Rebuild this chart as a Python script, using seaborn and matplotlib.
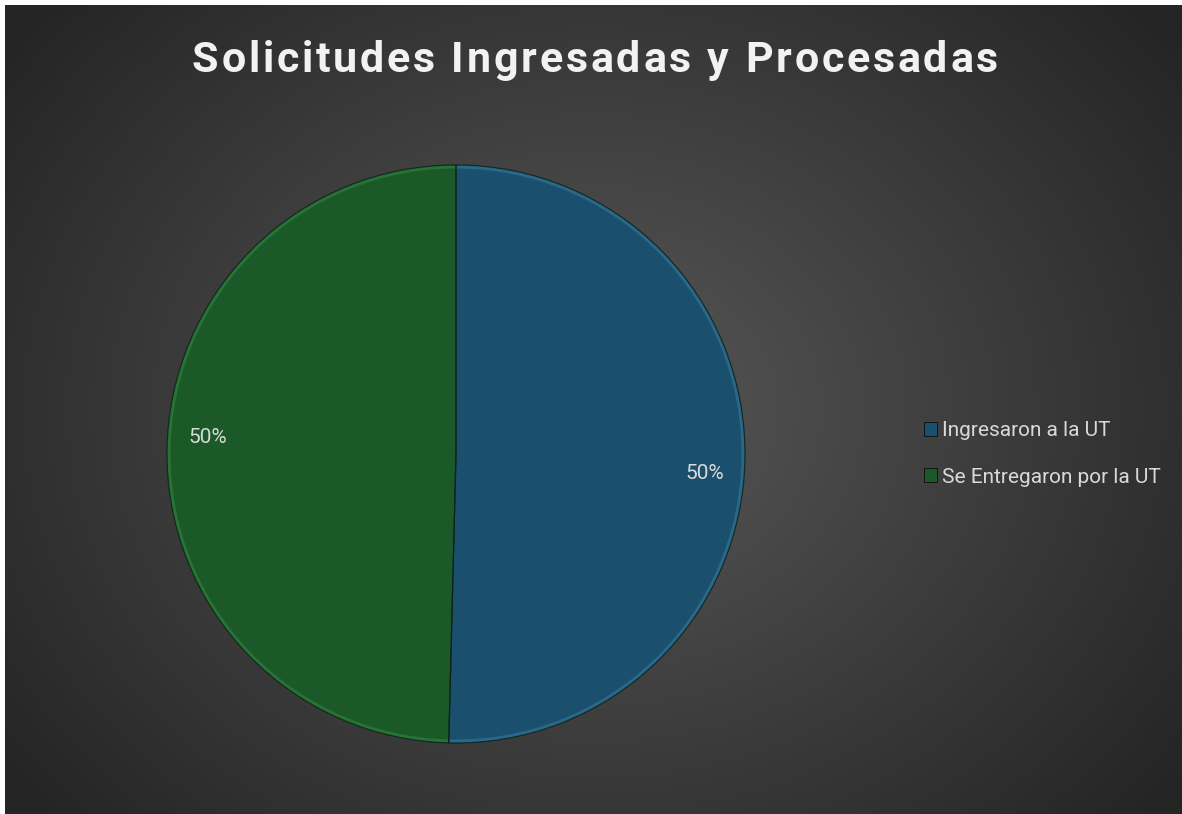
import numpy as np
import matplotlib
matplotlib.use("Agg")
import matplotlib.pyplot as plt
import seaborn as sns
from matplotlib.patches import Patch

categories = ["Ingresaron a la UT", "Se Entregaron por la UT"]
values = [50.4, 49.6]
title = "Solicitudes Ingresadas y Procesadas"

sns.set_theme(style="dark")
plt.rcParams['font.family'] = ['Roboto', 'DejaVu Sans']

colors = sns.color_palette(["#1a506e", "#1b5a28"])
rim_colors = ["#2f6f92", "#2b7a3a"]

W, H = 1182, 814
fig = plt.figure(figsize=(W / 100, H / 100), dpi=100, facecolor="white")

# background radial gradient
bx0, by_top = 5, 5
bg = fig.add_axes([bx0 / W, 0, 1 - bx0 / W, 1 - by_top / H])
bg.set_axis_off()
gh, gw = 400, 600
yy, xx = np.mgrid[0:gh, 0:gw]
cx, cy = gw * 0.50, gh * 0.50
d = np.sqrt(((xx - cx) / (gw * 0.62)) ** 2 + ((yy - cy) / (gh * 0.75)) ** 2)
d = np.clip(d, 0, 1)
c0 = np.array([0x58, 0x58, 0x58]) / 255
c1 = np.array([0x25, 0x25, 0x25]) / 255
img = c0[None, None, :] * (1 - d[..., None]) + c1[None, None, :] * d[..., None]
bg.imshow(img, aspect="auto", extent=[0, 1, 0, 1], interpolation="bilinear")
bg.set_xlim(0, 1)
bg.set_ylim(0, 1)

# pie axes
pcx, pcy, r = 456, 454, 289
ax = fig.add_axes([(pcx - r) / W, (H - pcy - r) / H, 2 * r / W, 2 * r / H])
ax.set_axis_off()
wedges, texts, autotexts = ax.pie(
    values, colors=colors, startangle=90, counterclock=False,
    autopct="%1.0f%%", pctdistance=0.86, radius=1.0,
    wedgeprops=dict(edgecolor="none", linewidth=0),
    textprops=dict(color="#d9d9d9", fontsize=15),
)
# bevel highlight rim
ax.pie(values, colors=rim_colors, startangle=90, counterclock=False,
       radius=1.0, wedgeprops=dict(width=0.012, edgecolor="none", alpha=0.8))
# dark divider lines
ax.pie(values, colors=["none", "none"], startangle=90, counterclock=False,
       radius=1.0, wedgeprops=dict(edgecolor="#0e2218", linewidth=0.9,
                                   fill=False, alpha=0.85))
# Excel-style slight rotation of label placement
x0, y0 = autotexts[0].get_position()
autotexts[0].set_position((x0, y0 - 0.055))
x1, y1 = autotexts[1].get_position()
autotexts[1].set_position((x1, y1 + 0.045))
ax.set_xlim(-1.0, 1.0)
ax.set_ylim(-1.0, 1.0)

# letter-spaced title
tfs = 31
renderer = fig.canvas.get_renderer()
def text_width(s):
    t = fig.text(0, 0, s, fontsize=tfs, fontweight="bold")
    w = t.get_window_extent(renderer).width
    t.remove()
    return w
full_w = text_width(title)
nchar = len(title)
target_left, target_right = 192, 998
spacing = (target_right - target_left - full_w) / (nchar - 1)
for i, ch in enumerate(title):
    if ch == " ":
        continue
    left = text_width(title[:i + 1]) - text_width(ch)
    xpix = target_left + left + i * spacing
    fig.text(xpix / W, 1 - 72 / H, ch, ha="left", va="baseline",
             color="#f2f2f2", fontsize=tfs, fontweight="bold")

handles = [Patch(facecolor=c, edgecolor="#0c0c0c", linewidth=0.6) for c in colors]
leg = fig.legend(handles, categories, loc="center left",
                 bbox_to_anchor=(905 / W, 1 - 454 / H), frameon=False,
                 fontsize=15, labelcolor="#d9d9d9", handlelength=0.65,
                 handleheight=0.65, handletextpad=0.25, labelspacing=1.3)

fig.savefig("out.png", dpi=100, facecolor="white")
